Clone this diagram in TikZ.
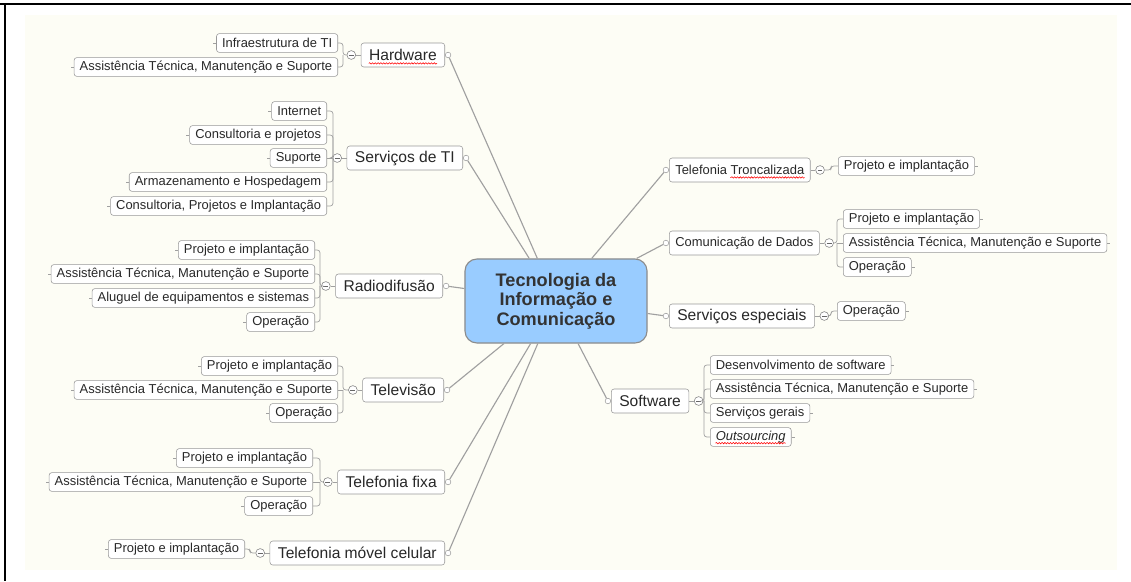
\documentclass[tikz,border=0pt]{standalone}
\usepackage{fontspec}
\setmainfont{Liberation Sans}
\usetikzlibrary{positioning,decorations.pathmorphing}
\definecolor{ivory}{RGB}{253,253,245}
\definecolor{rootblue}{RGB}{153,204,255}
\definecolor{linegray}{RGB}{160,160,160}
\definecolor{textgray}{RGB}{40,40,40}
\tikzset{
  root/.style={rectangle,rounded corners=0.3cm,draw=black!45,fill=rootblue,thick,
               align=center,minimum width=4.55cm,minimum height=2.1cm,text=black!80,
               font=\fontsize{12.9}{13.8}\selectfont\bfseries},
  topic/.style={rectangle,rounded corners=2pt,draw=black!40,fill=white,
                minimum height=0.6cm,inner xsep=0.2cm,inner ysep=0,text=textgray,
                font=\fontsize{11.1}{13}\selectfont},
  smalltopic/.style={topic,inner xsep=0.15cm,font=\fontsize{9.2}{11}\selectfont},
  leaf/.style={rectangle,rounded corners=2pt,draw=black!40,fill=white,
               minimum height=0.47cm,inner xsep=0.14cm,inner ysep=0,text=textgray,
               font=\fontsize{9.2}{11}\selectfont},
  leafl/.style={leaf,anchor=east,append after command={(\tikzlastnode.west) edge[stub] ++(-3,0)}},
  leafr/.style={leaf,anchor=west,append after command={(\tikzlastnode.east) edge[stub] ++(3,0)}},
  stub/.style={draw=linegray,line width=0.4pt},
  knob/.style={circle,draw=linegray,fill=white,inner sep=0,minimum size=0.14cm},
  fold/.style={circle,draw=black!50,fill=white,inner sep=0,minimum size=0.22cm,
               path picture={\draw[black!60] ([xshift=-0.06cm]path picture bounding box.center)
                 -- ([xshift=0.06cm]path picture bounding box.center);}},
  branch/.style={draw=linegray,line width=0.8pt},
  link/.style={draw=linegray,line width=0.5pt,rounded corners=2pt},
  spell/.style={draw=red,line width=0.4pt,decorate,
                decoration={snake,amplitude=0.5pt,segment length=2pt}}
}
\begin{document}
\begin{tikzpicture}[x=0.025cm,y=-0.025cm]
  \useasboundingbox (0,0) rectangle (1131,581);
  \fill[ivory] (25,15) rectangle (1117,570);
  \draw[line width=1.5pt] (0,4) -- (1131,4);
  \draw[line width=1.5pt] (5,4) -- (5,581);
  \node[root] (root) at (556,301) {Tecnologia da\\Informação e\\Comunicação};
  % Hardware
  \node[topic,anchor=east] (hw) at (445,55) {Hardware};
  \node[knob,right=0pt of hw] (hwknob) {};
  \node[fold,left=0.12cm of hw] (hwfold) {};
  \coordinate (hwbr) at (343,55);
  \node[leafl] (hw1) at (338,43) {Infraestrutura de TI};
  \node[leafl] (hw2) at (338,67) {Assistência Técnica, Manutenção e Suporte};
  % Servicos de TI
  \node[topic,anchor=east] (sv) at (463,158) {Serviços de TI};
  \node[knob,right=0pt of sv] (svknob) {};
  \node[fold,left=0.12cm of sv] (svfold) {};
  \coordinate (svbr) at (333,158);
  \node[leafl] (sv1) at (327,111) {Internet};
  \node[leafl] (sv2) at (327,135) {Consultoria e projetos};
  \node[leafl] (sv3) at (327,158) {Suporte};
  \node[leafl] (sv4) at (327,182) {Armazenamento e Hospedagem};
  \node[leafl] (sv5) at (327,206) {Consultoria, Projetos e Implantação};
  % Radiodifusao
  \node[topic,anchor=east] (rd) at (443,286) {Radiodifusão};
  \node[knob,right=0pt of rd] (rdknob) {};
  \node[fold,left=0.12cm of rd] (rdfold) {};
  \coordinate (rdbr) at (320,286);
  \node[leafl] (rd1) at (315,250) {Projeto e implantação};
  \node[leafl] (rd2) at (315,274) {Assistência Técnica, Manutenção e Suporte};
  \node[leafl] (rd3) at (315,298) {Aluguel de equipamentos e sistemas};
  \node[leafl] (rd4) at (315,322) {Operação};
  % Televisao
  \node[topic,anchor=east] (tv) at (444,390) {Televisão};
  \node[knob,right=0pt of tv] (tvknob) {};
  \node[fold,left=0.12cm of tv] (tvfold) {};
  \coordinate (tvbr) at (343,390);
  \node[leafl] (tv1) at (338,366) {Projeto e implantação};
  \node[leafl] (tv2) at (338,390) {Assistência Técnica, Manutenção e Suporte};
  \node[leafl] (tv3) at (338,413) {Operação};
  % Telefonia fixa
  \node[topic,anchor=east] (tf) at (445,482) {Telefonia fixa};
  \node[knob,right=0pt of tf] (tfknob) {};
  \node[fold,left=0.12cm of tf] (tffold) {};
  \coordinate (tfbr) at (320,482);
  \node[leafl] (tf1) at (313,458) {Projeto e implantação};
  \node[leafl] (tf2) at (313,482) {Assistência Técnica, Manutenção e Suporte};
  \node[leafl] (tf3) at (313,506) {Operação};
  % Telefonia movel
  \node[topic,anchor=east] (tm) at (445,553) {Telefonia móvel celular};
  \node[knob,right=0pt of tm] (tmknob) {};
  \node[fold,left=0.12cm of tm] (tmfold) {};
  \coordinate (tmbr) at (250,553);
  \node[leafl] (tm1) at (245,549) {Projeto e implantação};
  % Telefonia Troncalizada
  \node[smalltopic,anchor=west] (tt) at (669,170) {Telefonia Troncalizada};
  \node[knob,left=0pt of tt] (ttknob) {};
  \node[fold,right=0.12cm of tt] (ttfold) {};
  \coordinate (ttbr) at (831,170);
  \node[leafr] (tt1) at (838,166) {Projeto e implantação};
  % Comunicacao de Dados
  \node[smalltopic,anchor=west] (cd) at (669,243) {Comunicação de Dados};
  \node[knob,left=0pt of cd] (cdknob) {};
  \node[fold,right=0.12cm of cd] (cdfold) {};
  \coordinate (cdbr) at (837,243);
  \node[leafr] (cd1) at (843,219) {Projeto e implantação};
  \node[leafr] (cd2) at (843,243) {Assistência Técnica, Manutenção e Suporte};
  \node[leafr] (cd3) at (843,267) {Operação};
  % Servicos especiais
  \node[topic,anchor=west] (se) at (669,316) {Serviços especiais};
  \node[knob,left=0pt of se] (seknob) {};
  \node[fold,right=0.12cm of se] (sefold) {};
  \coordinate (sebr) at (831,316);
  \node[leafr] (se1) at (837,311) {Operação};
  % Software
  \node[topic,anchor=west] (sw) at (611,401) {Software};
  \node[knob,left=0pt of sw] (swknob) {};
  \node[fold,right=0.12cm of sw] (swfold) {};
  \coordinate (swbr) at (704,401);
  \node[leafr] (sw1) at (710,365) {Desenvolvimento de software};
  \node[leafr] (sw2) at (710,389) {Assistência Técnica, Manutenção e Suporte};
  \node[leafr] (sw3) at (710,413) {Serviços gerais};
  \node[leafr] (sw4) at (710,437) {\itshape Outsourcing};
  % spell check marks
  \draw[spell] ([xshift=0.2cm,yshift=-2pt]hw.base west) -- ([xshift=-0.2cm,yshift=-2pt]hw.base east);
  \draw[spell] ([xshift=-0.15cm,yshift=-2pt]tt.base east) -- ++(-1.86cm,0);
  \draw[spell] ([xshift=0.14cm,yshift=-2pt]sw4.base west) -- ([xshift=-0.14cm,yshift=-2pt]sw4.base east);
  % branches to the root
  \draw[branch] (hwknob) -- (root);
  \draw[branch] (svknob) -- (root);
  \draw[branch] (rdknob) -- (root);
  \draw[branch] (tvknob) -- (root);
  \draw[branch] (tfknob) -- (root);
  \draw[branch] (tmknob) -- (root);
  \draw[branch] (ttknob) -- (root);
  \draw[branch] (cdknob) -- (root);
  \draw[branch] (seknob) -- (root);
  \draw[branch] (swknob) -- (root);
  % topics to folds to leaves
  \draw[link] (hw) -- (hwfold);
  \draw[link] (hwfold) -- (hwbr) |- (hw1);
  \draw[link] (hwbr) |- (hw2);
  \draw[link] (sv) -- (svfold);
  \draw[link] (svfold) -- (svbr) |- (sv1);
  \draw[link] (svbr) |- (sv2);
  \draw[link] (svbr) -- (sv3);
  \draw[link] (svbr) |- (sv4);
  \draw[link] (svbr) |- (sv5);
  \draw[link] (rd) -- (rdfold);
  \draw[link] (rdfold) -- (rdbr) |- (rd1);
  \draw[link] (rdbr) |- (rd2);
  \draw[link] (rdbr) |- (rd3);
  \draw[link] (rdbr) |- (rd4);
  \draw[link] (tv) -- (tvfold);
  \draw[link] (tvfold) -- (tvbr) |- (tv1);
  \draw[link] (tvbr) -- (tv2);
  \draw[link] (tvbr) |- (tv3);
  \draw[link] (tf) -- (tffold);
  \draw[link] (tffold) -- (tfbr) |- (tf1);
  \draw[link] (tfbr) -- (tf2);
  \draw[link] (tfbr) |- (tf3);
  \draw[link] (tm) -- (tmfold);
  \draw[link] (tmfold) -- (tmbr) |- (tm1);
  \draw[link] (tt) -- (ttfold);
  \draw[link] (ttfold) -- (ttbr) |- (tt1);
  \draw[link] (cd) -- (cdfold);
  \draw[link] (cdfold) -- (cdbr) |- (cd1);
  \draw[link] (cdbr) -- (cd2);
  \draw[link] (cdbr) |- (cd3);
  \draw[link] (se) -- (sefold);
  \draw[link] (sefold) -- (sebr) |- (se1);
  \draw[link] (sw) -- (swfold);
  \draw[link] (swfold) -- (swbr) |- (sw1);
  \draw[link] (swbr) |- (sw2);
  \draw[link] (swbr) |- (sw3);
  \draw[link] (swbr) |- (sw4);
\end{tikzpicture}
\end{document}
